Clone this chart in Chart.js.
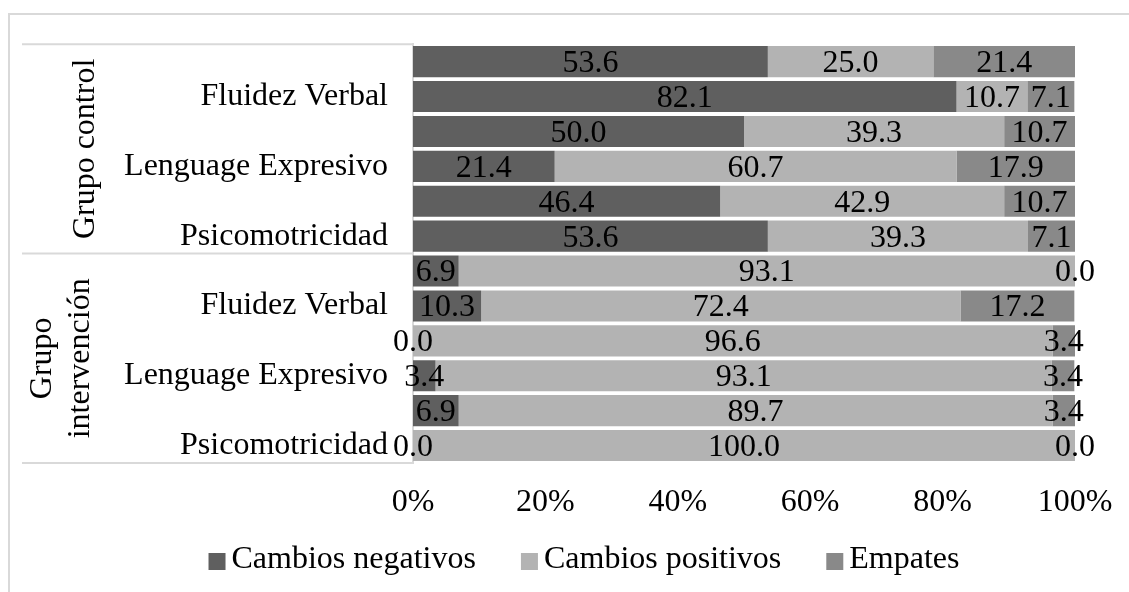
<!DOCTYPE html>
<html>
<head>
<meta charset="utf-8">
<script src="https://cdn.jsdelivr.net/npm/chart.js@4"></script>
<style>
  html, body { margin: 0; padding: 0; background: #fff; }
  #wrap { width: 1129px; height: 592px; position: relative; }
</style>
</head>
<body>
<div id="wrap"><canvas id="chart" width="1129" height="592"></canvas></div>
<script>
// rows from top to bottom, two rows per skill
var skills = ['', 'Fluidez Verbal', '', 'Lenguage Expresivo', '', 'Psicomotricidad',
              '', 'Fluidez Verbal', '', 'Lenguage Expresivo', '', 'Psicomotricidad'];
var groups = ['Grupo control', ['Grupo', 'intervención']];
var negativos = [53.6, 82.1, 50.0, 21.4, 46.4, 53.6, 6.9, 10.3, 0.0, 3.4, 6.9, 0.0];
var positivos = [25.0, 10.7, 39.3, 60.7, 42.9, 39.3, 93.1, 72.4, 96.6, 93.1, 89.7, 100.0];
var empates   = [21.4, 7.1, 10.7, 17.9, 10.7, 7.1, 0.0, 17.2, 3.4, 3.4, 3.4, 0.0];
var xTicks = [0, 20, 40, 60, 80, 100];

var FONT = '"Liberation Serif", "Times New Roman", serif';
var FS = 32;

var canvas = document.getElementById('chart');
var ctx = canvas.getContext('2d');

// value labels centred on each segment
var segLabels = {
  id: 'segLabels',
  afterDatasetsDraw: function(chart) {
    var c = chart.ctx;
    c.save();
    c.font = FS + 'px ' + FONT;
    c.fillStyle = '#000';
    c.textAlign = 'center';
    c.textBaseline = 'middle';
    chart.data.datasets.forEach(function(ds, i) {
      chart.getDatasetMeta(i).data.forEach(function(el, j) {
        var cx = (el.x + el.base) / 2;
        c.fillText(ds.data[j].toFixed(1), cx, el.y + 2);
      });
    });
    c.restore();
  }
};

// group labels, separator lines, frame and a tight legend
var groupAxis = {
  id: 'groupAxis',
  afterDraw: function(chart) {
    var c = chart.ctx, a = chart.chartArea, ys = chart.scales.y;
    var mid = (ys.getPixelForValue(5) + ys.getPixelForValue(6)) / 2;
    c.save();
    c.strokeStyle = '#d9d9d9';
    c.lineWidth = 2;
    c.beginPath();
    c.rect(9, 14, 1200, 700);
    c.stroke();
    c.beginPath();
    [a.top, mid, a.bottom].forEach(function(y) {
      c.moveTo(22, y); c.lineTo(a.left, y);
    });
    c.stroke();
    c.font = FS + 'px ' + FONT;
    c.fillStyle = '#000';
    c.textAlign = 'center';
    c.textBaseline = 'middle';
    c.translate(86, (a.top + mid) / 2);
    c.rotate(-Math.PI / 2);
    c.fillText(groups[0], 0, 0);
    c.restore();

    c.save();
    c.font = FS + 'px ' + FONT;
    c.fillStyle = '#000';
    c.textAlign = 'center';
    c.textBaseline = 'middle';
    c.translate(62, (mid + a.bottom) / 2);
    c.rotate(-Math.PI / 2);
    c.fillText(groups[1][0], 0, -19);
    c.fillText(groups[1][1], 0, 19);
    c.restore();

    // legend
    c.save();
    c.font = FS + 'px ' + FONT;
    c.textBaseline = 'middle';
    c.textAlign = 'left';
    var dsets = chart.data.datasets, box = 17, gap = 6, sep = 45;
    var total = 0;
    dsets.forEach(function(ds, i) {
      total += box + gap + c.measureText(ds.label).width + (i ? sep : 0);
    });
    var x = 584 - total / 2, y = 560;
    dsets.forEach(function(ds) {
      c.fillStyle = ds.backgroundColor;
      c.fillRect(x, y - 7, box, box);
      c.fillStyle = '#000';
      c.fillText(ds.label, x + box + gap, y);
      x += box + gap + c.measureText(ds.label).width + sep;
    });
    c.restore();
  }
};

var plot = new Chart(ctx, {
  type: 'bar',
  data: {
    labels: skills,
    datasets: [
      { label: 'Cambios negativos', data: negativos, backgroundColor: '#5f5f5f' },
      { label: 'Cambios positivos', data: positivos, backgroundColor: '#b3b3b3' },
      { label: 'Empates', data: empates, backgroundColor: '#898989' }
    ]
  },
  options: {
    indexAxis: 'y',
    responsive: false,
    animation: false,
    datasets: { bar: { categoryPercentage: 1, barPercentage: 0.89 } },
    layout: { padding: { top: 43, right: 54, left: 77, bottom: 65 } },
    scales: {
      x: {
        stacked: true,
        min: 0,
        max: 100,
        afterBuildTicks: function(s) { s.ticks = xTicks.map(function(v) { return { value: v }; }); },
        afterFit: function(s) { s.height = 64; s.paddingLeft = 0; s.paddingRight = 0; },
        grid: { display: false, drawTicks: false },
        border: { display: false },
        ticks: {
          padding: 20,
          maxRotation: 0,
          minRotation: 0,
          color: '#000',
          font: { family: FONT, size: FS },
          callback: function(v) { return v + '%'; }
        }
      },
      y: {
        stacked: true,
        afterFit: function(s) { s.width = 336; },
        grid: { display: false, drawTicks: false },
        border: { display: true, color: '#d9d9d9', width: 2 },
        ticks: {
          padding: 25,
          autoSkip: false,
          color: '#000',
          font: { family: FONT, size: FS }
        }
      }
    },
    plugins: {
      legend: { display: false },
      tooltip: { enabled: false }
    }
  },
  plugins: [segLabels, groupAxis]
});
</script>
</body>
</html>
